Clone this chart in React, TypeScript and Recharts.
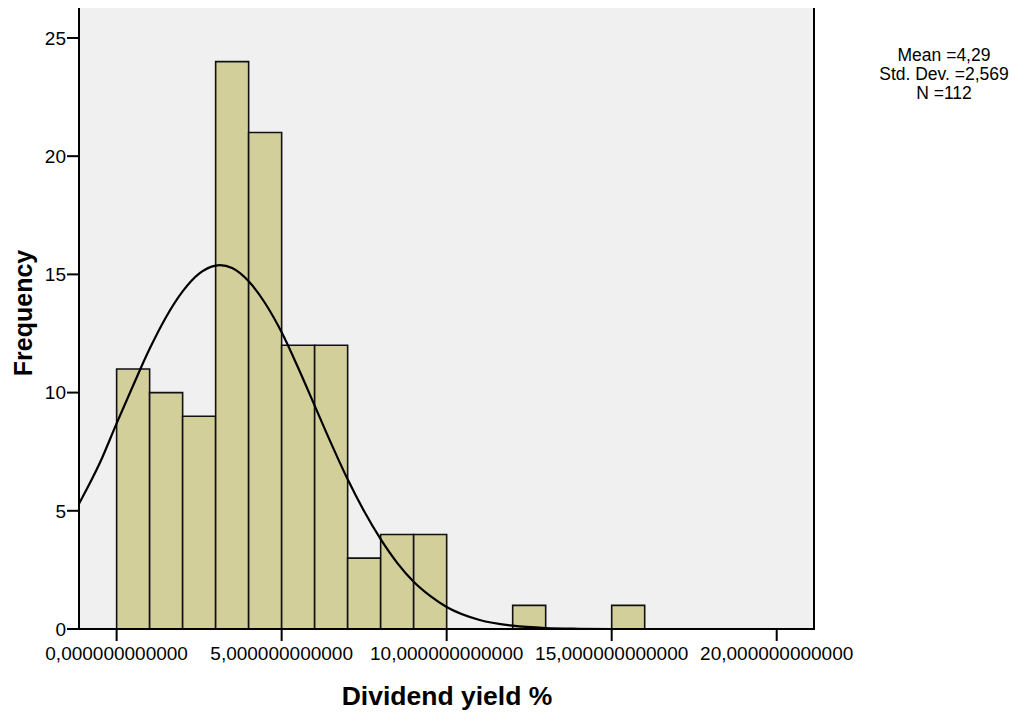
import { ComposedChart, Line, XAxis, YAxis, CartesianGrid, ReferenceArea } from "recharts";

// histogram bins: [start, end) and frequency
const binStarts = [0, 1, 2, 3, 4, 5, 6, 7, 8, 9, 12, 15];
const binEnds = [1, 2, 3, 4, 5, 6, 7, 8, 9, 10, 13, 16];
const binCounts = [11, 10, 9, 24, 21, 12, 12, 3, 4, 4, 1, 1];

// normal curve
const curveX = [-1.14, -0.5, 0, 0.5, 1, 1.5, 2, 2.5, 3, 3.13, 3.5, 4, 4.5, 5, 5.5, 6, 6.5, 7, 7.5, 8, 8.5, 9, 9.5, 10, 11, 12, 13, 14, 15, 17, 21.13];
const curveY = [5.3, 7.05, 8.7, 10.3, 11.85, 13.2, 14.28, 15.03, 15.37, 15.39, 15.27, 14.71, 13.78, 12.55, 11.05, 9.45, 7.85, 6.33, 4.98, 3.8, 2.8, 2.0, 1.4, 0.93, 0.38, 0.14, 0.04, 0.01, 0, 0, 0];

const xTicks = [0, 5, 10, 15, 20];
const yTicks = [0, 5, 10, 15, 20, 25];
const statsLines = ["Mean =4,29", "Std. Dev. =2,569", "N =112"];

const xDomain: [number, number] = [-1.14, 21.13];
const yDomain: [number, number] = [0, 26.31];

const curveData = curveX.map((x, i) => ({ x, y: curveY[i] }));

const font = "'Liberation Sans', Arial, sans-serif";
const tickStyle = { fontSize: 19, fill: "#000", fontFamily: font };

export default function App() {
  return (
    <div style={{ position: "relative", width: 1024, height: 717, margin: "-8px 0 0 -8px", background: "#fff" }}>
      <ComposedChart
        width={1024}
        height={717}
        data={curveData}
        margin={{ top: 7, right: 210, bottom: 0, left: 0 }}
        style={{ fontFamily: font }}
      >
        <CartesianGrid horizontal={false} vertical={false} fill="#f0f0f0" />
        <XAxis
          dataKey="x"
          type="number"
          domain={xDomain}
          allowDataOverflow
          ticks={xTicks}
          tickFormatter={(v: number) => v.toFixed(12).replace(".", ",")}
          height={88}
          tickSize={12}
          tickMargin={6}
          tick={tickStyle}
          stroke="#000"
          strokeWidth={2}
        />
        <YAxis
          type="number"
          domain={yDomain}
          allowDataOverflow
          ticks={yTicks}
          width={79}
          tickSize={12}
          tickMargin={1}
          tick={tickStyle}
          stroke="#000"
          strokeWidth={2}
        />
        {binStarts.map((s, i) => (
          <ReferenceArea
            key={i}
            x1={s}
            x2={binEnds[i]}
            y1={0}
            y2={binCounts[i]}
            fill="#d3cf9a"
            fillOpacity={1}
            stroke="#111"
            strokeWidth={1.6}
          />
        ))}
        {/* plot frame */}
        <ReferenceArea
          x1={xDomain[0]}
          x2={xDomain[1]}
          y1={yDomain[0]}
          y2={yDomain[1]}
          fill="none"
          stroke="#000"
          strokeWidth={2}
          ifOverflow="visible"
        />
        <Line
          dataKey="y"
          type="monotone"
          stroke="#000"
          strokeWidth={2.2}
          dot={false}
          activeDot={false}
          isAnimationActive={false}
        />
      </ComposedChart>
      <svg width={1024} height={717} style={{ position: "absolute", left: 0, top: 0, pointerEvents: "none" }}>
        <text x={447} y={696} textAnchor="middle" dominantBaseline="central" fontFamily={font} fontWeight="bold" fontSize={26.5}>
          Dividend yield %
        </text>
        <text
          x={23}
          y={313}
          textAnchor="middle"
          dominantBaseline="central"
          fontFamily={font}
          fontWeight="bold"
          fontSize={25}
          transform="rotate(-90 23 313)"
        >
          Frequency
        </text>
        {statsLines.map((t, i) => (
          <text key={t} x={944} y={55 + i * 19} textAnchor="middle" dominantBaseline="central" fontFamily={font} fontSize={17.5}>
            {t}
          </text>
        ))}
      </svg>
    </div>
  );
}
